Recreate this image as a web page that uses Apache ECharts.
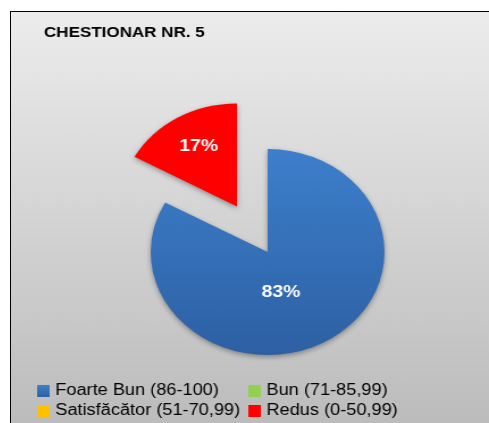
<!DOCTYPE html>
<html>
<head>
<meta charset="utf-8">
<script src="https://cdn.jsdelivr.net/npm/echarts@6/dist/echarts.min.js"></script>
<style>
  html, body { margin: 0; padding: 0; background: #fff; }
  #frame {
    position: absolute; left: 10px; top: 11px;
    width: 478px; height: 411px;
    border-top: 1px solid #000; border-left: 1px solid #000;
    overflow: hidden;
  }
  /* the reference picture is stretched sideways, so the chart is too */
  #main { width: 421px; height: 411px; transform: scaleX(1.1354); transform-origin: 0 0; }
</style>
</head>
<body>
<div id="frame"><div id="main"></div></div>
<script>
var titleText = "CHESTIONAR NR. 5";
var categories = ["Foarte Bun (86-100)", "Bun (71-85,99)", "Satisfăcător (51-70,99)", "Redus (0-50,99)"];
var values = [83, 0, 0, 17];
var colors = [
  new echarts.graphic.LinearGradient(0, 0, 0, 1, [
    { offset: 0, color: "#3d7fcc" },
    { offset: 1, color: "#2d60a3" }
  ]),
  "#92d050",
  "#ffc000",
  "#ff0000"
];

var myChart = echarts.init(document.getElementById("main"));

myChart.setOption({
  animation: false,
  backgroundColor: new echarts.graphic.LinearGradient(0, 0, 0, 1, [
    { offset: 0, color: "#ececec" },
    { offset: 1, color: "#bcbcbc" }
  ]),
  title: {
    text: titleText,
    left: 29,
    top: 13,
    padding: 0,
    textStyle: { fontFamily: "Liberation Sans", fontWeight: "bold", fontSize: 15, color: "#000" }
  },
  legend: {
    left: 23,
    top: 371,
    width: 380,
    padding: 0,
    itemGap: 4,
    itemWidth: 11,
    itemHeight: 12,
    icon: "rect",
    selectedMode: false,
    data: categories,
    textStyle: {
      fontFamily: "Liberation Sans",
      fontSize: 16,
      color: "#000",
      width: 166,
      lineHeight: 12,
      overflow: "none"
    }
  },
  series: [
    {
      type: "pie",
      center: [226, 240],
      radius: 103,
      startAngle: 90,
      clockwise: true,
      selectedMode: "single",
      selectedOffset: 53,
      avoidLabelOverlap: false,
      label: {
        position: "inside",
        color: "#fff",
        fontFamily: "Liberation Sans",
        fontWeight: "bold",
        fontSize: 17,
        formatter: function (p) {
          return p.value ? Math.round(p.percent) + "%" : "";
        }
      },
      labelLine: { show: false },
      labelLayout: function (p) {
        return p.dataIndex === 0 ? { dx: -16, dy: -7 } : { dx: -6, dy: -13 };
      },
      itemStyle: {
        shadowBlur: 5,
        shadowOffsetY: 2,
        shadowColor: "rgba(0,0,0,0.35)"
      },
      emphasis: { disabled: true },
      data: categories.map(function (name, i) {
        return {
          name: name,
          value: values[i],
          selected: i === 3,
          itemStyle: { color: colors[i] }
        };
      })
    }
  ]
});
</script>
</body>
</html>
